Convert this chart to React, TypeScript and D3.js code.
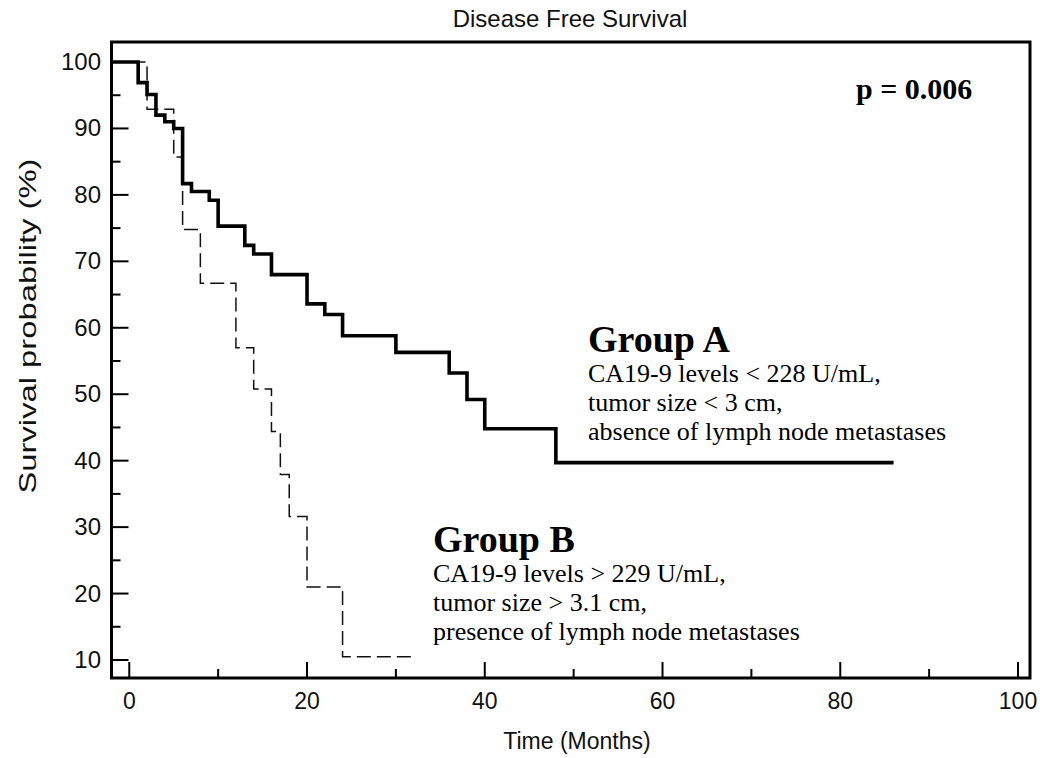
import React from "react";
import * as d3 from "d3";

// ---- data ----
const groupATimes = [0, 1, 2, 3, 4, 5, 6, 7, 9, 10, 13, 14, 16, 20, 22, 24, 30, 36, 38, 40, 48];
const groupASurv = [100, 96.9, 95.1, 92, 91, 90, 81.7, 80.5, 79.2, 75.3, 72.4, 71.1, 68, 63.6, 62, 58.8, 56.3, 53.2, 49.2, 44.8, 39.7];
const groupAEnd = 86;

const groupBTimes = [0, 2, 5, 6, 8, 12, 14, 16, 17, 18, 20, 24];
const groupBSurv = [100, 92.9, 85.7, 74.8, 66.7, 57, 50.8, 44.4, 37.9, 31.6, 21, 10.5];
const groupBEnd = 32;

const xMajorTicks = [0, 20, 40, 60, 80, 100];
const xMinorTicks = [10, 30, 50, 70, 90];
const yMajorTicks = [10, 20, 30, 40, 50, 60, 70, 80, 90, 100];
const yMinorTicks = [15, 25, 35, 45, 55, 65, 75, 85, 95];

const title = "Disease Free Survival";
const xTitle = "Time (Months)";
const yTitle = "Survival probability (%)";
const pText = "p = 0.006";
const groupALabel = "Group A";
const groupALines = ["CA19-9 levels < 228 U/mL,", "tumor size < 3 cm,", "absence of lymph node metastases"];
const groupBLabel = "Group B";
const groupBLines = ["CA19-9 levels > 229 U/mL,", "tumor size > 3.1 cm,", "presence of lymph node metastases"];

const W = 1040;
const H = 758;
const left = 111.5;
const right = 1030;
const top = 42;
const bottom = 678;

const SANS = "'Liberation Sans', Arial, sans-serif";
const SERIF = "'Liberation Serif', 'Times New Roman', serif";

export default function App() {
  const x = d3.scaleLinear().domain([-2, 101.35]).range([left, right]);
  const y = d3.scaleLinear().domain([7.29, 103.01]).range([bottom, top]);

  const line = d3
    .line<[number, number]>()
    .x((d) => x(d[0]))
    .y((d) => y(d[1]))
    .curve(d3.curveStepAfter);

  const build = (times: number[], surv: number[], end: number): [number, number][] => {
    const pts: [number, number][] = [[x.domain()[0], surv[0]]];
    times.forEach((t, i) => pts.push([t, surv[i]]));
    pts.push([end, surv[surv.length - 1]]);
    return pts;
  };

  const pathA = line(build(groupATimes, groupASurv, groupAEnd)) || "";
  const pathB = line(build(groupBTimes, groupBSurv, groupBEnd)) || "";

  return (
    <svg
      width={W}
      height={H}
      viewBox={`0 0 ${W} ${H}`}
      style={{ position: "absolute", left: 0, top: 0, background: "#fff" }}
    >
      <rect x={0} y={0} width={W} height={H} fill="#fff" />
      <text x={570} y={27} textAnchor="middle" fontFamily={SANS} fontSize={24} fill="#111">
        {title}
      </text>

      {/* curves */}
      <path d={pathB} fill="none" stroke="#111" strokeWidth={1.5} strokeDasharray="14,6" />
      <path d={pathA} fill="none" stroke="#000" strokeWidth={3.6} strokeLinejoin="miter" />

      {/* ticks */}
      {xMajorTicks.map((t) => (
        <line key={"xM" + t} x1={x(t)} x2={x(t)} y1={bottom} y2={bottom - 16} stroke="#000" strokeWidth={2} />
      ))}
      {xMinorTicks.map((t) => (
        <line key={"xm" + t} x1={x(t)} x2={x(t)} y1={bottom} y2={bottom - 9} stroke="#000" strokeWidth={2} />
      ))}
      {yMajorTicks.map((t) => (
        <line key={"yM" + t} x1={left} x2={left + 17} y1={y(t)} y2={y(t)} stroke="#000" strokeWidth={2} />
      ))}
      {yMinorTicks.map((t) => (
        <line key={"ym" + t} x1={left} x2={left + 9} y1={y(t)} y2={y(t)} stroke="#000" strokeWidth={2} />
      ))}

      {/* frame */}
      <rect x={left} y={top} width={right - left} height={bottom - top} fill="none" stroke="#000" strokeWidth={3} />

      {/* tick labels */}
      {xMajorTicks.map((t) => (
        <text key={"xl" + t} x={x(t)} y={709} textAnchor="middle" fontFamily={SANS} fontSize={23} fill="#111">
          {t}
        </text>
      ))}
      {yMajorTicks.map((t) => (
        <text key={"yl" + t} x={101} y={y(t) + 8} textAnchor="end" fontFamily={SANS} fontSize={24} fill="#111">
          {t}
        </text>
      ))}

      <text x={577} y={749} textAnchor="middle" fontFamily={SANS} fontSize={23} fill="#111">
        {xTitle}
      </text>
      <text
        transform={`translate(36, 326) rotate(-90)`}
        textAnchor="middle"
        fontFamily={SANS}
        fontSize={24}
        fill="#111"
        textLength={335}
        lengthAdjust="spacingAndGlyphs"
      >
        {yTitle}
      </text>

      {/* annotations */}
      <text x={856} y={99} fontFamily={SERIF} fontWeight="bold" fontSize={30} fill="#000">
        {pText}
      </text>

      <text x={588} y={352} fontFamily={SERIF} fontWeight="bold" fontSize={38} fill="#000">
        {groupALabel}
      </text>
      {groupALines.map((s, i) => (
        <text key={"a" + i} x={588} y={382 + i * 29} fontFamily={SERIF} fontSize={26} fill="#000">
          {s}
        </text>
      ))}

      <text x={433} y={552} fontFamily={SERIF} fontWeight="bold" fontSize={38} fill="#000">
        {groupBLabel}
      </text>
      {groupBLines.map((s, i) => (
        <text key={"b" + i} x={433} y={582 + i * 29} fontFamily={SERIF} fontSize={26} fill="#000">
          {s}
        </text>
      ))}
    </svg>
  );
}
